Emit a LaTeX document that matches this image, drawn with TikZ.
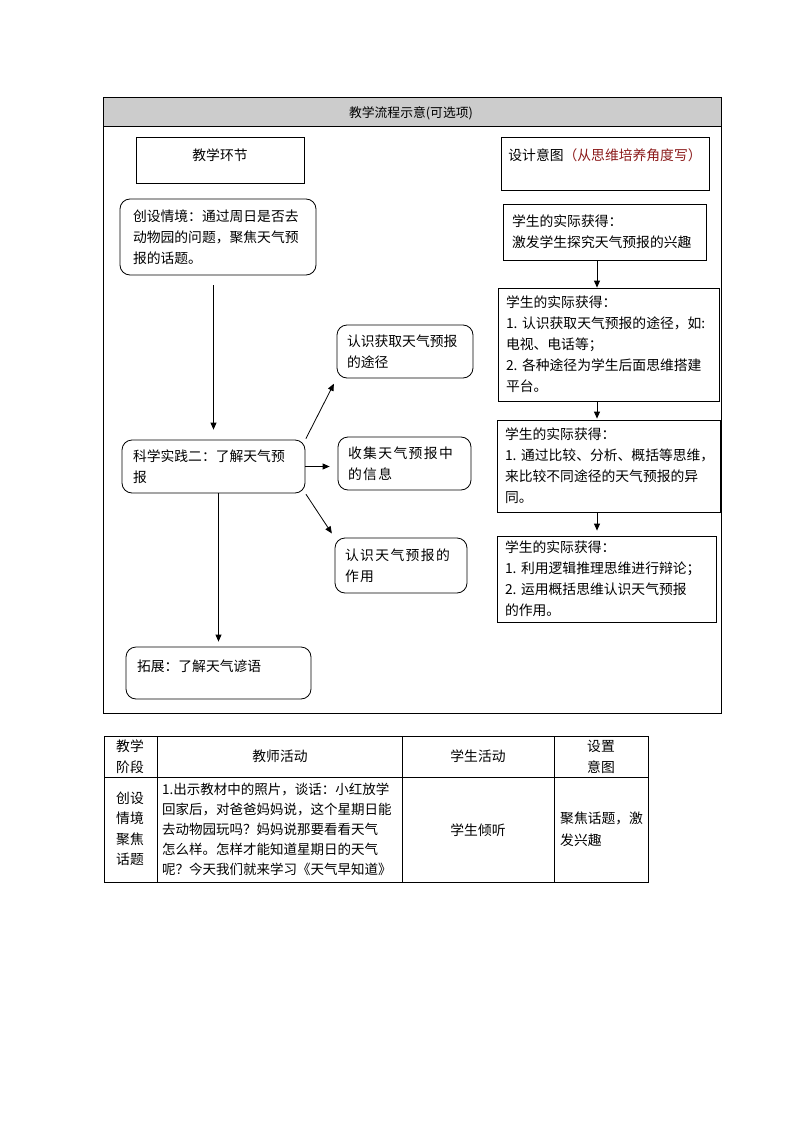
\documentclass[tikz,border=0pt]{standalone}
\usepackage{fontspec}
\setmainfont{Noto Sans CJK SC}
\usetikzlibrary{arrows.meta}
\definecolor{noteRed}{HTML}{8B1A1A}
\definecolor{headGray}{HTML}{CCCCCC}

\begin{document}
\begin{tikzpicture}[x=1pt,y=-1pt,
    txt/.style={font=\fontsize{13.8}{21}\selectfont},
    roundbox/.style={txt,draw,rounded corners=10pt,align=left,line width=0.8pt},
    squarebox/.style={txt,draw,align=left,line width=0.8pt},
    wide/.style={font=\fontsize{13.8}{21}\selectfont\addfontfeature{LetterSpace=10}},
    flow/.style={line width=0.8pt,-{Triangle[length=7pt,width=6pt]}}]
    \useasboundingbox (0,0) rectangle (794,1123);

    % frame of the flow chart
    \fill[headGray] (103,97) rectangle (721,127);
    \draw[line width=0.8pt] (103,97) rectangle (721,713);
    \draw[line width=1pt] (103,127) -- (721,127);
    \node[font=\fontsize{12.8}{15}\selectfont] (title) at (411,113) {教学流程示意(可选项)};

    \node[squarebox,align=center,minimum width=168pt,minimum height=46pt,text depth=11.5pt] (step) at (220,160) {教学环节};
    \node[squarebox,align=center,minimum width=208pt,minimum height=53pt,text depth=18pt] (design) at (605,163.5) {设计意图\textcolor{noteRed}{（从思维培养角度写）}};

    % left column
    \node[roundbox,text width=170pt,inner xsep=13pt,minimum height=76pt] (intro) at (218,237)
        {创设情境：通过周日是否去\\动物园的问题，聚焦天气预\\报的话题。};
    \node[roundbox,text width=161pt,inner xsep=11pt,minimum height=53pt] (practice) at (213.5,466.5)
        {科学实践二：了解天气预\\报};
    \node[roundbox,text width=163pt,inner xsep=11pt,minimum height=52pt,text depth=14pt] (extend) at (218.5,673)
        {拓展：了解天气谚语};

    % middle column
    \node[roundbox,text width=116pt,inner xsep=10pt,minimum height=53pt] (way) at (405,351.5)
        {认识获取天气预报\\的途径};
    \node[roundbox,wide,text width=113pt,inner xsep=10pt,minimum height=53pt] (info) at (404.5,463.5)
        {收集天气预报中\\的信息};
    \node[roundbox,wide,text width=112pt,inner xsep=10pt,minimum height=55pt] (role) at (401,565.5)
        {认识天气预报的\\作用};

    % right column
    \node[squarebox,text width=185pt,inner xsep=9pt,minimum height=56pt] (gainA) at (604.5,232)
        {学生的实际获得：\\激发学生探究天气预报的兴趣};
    \node[squarebox,text width=205pt,inner xsep=8pt,minimum height=113pt] (gainB) at (608.5,344.5)
        {学生的实际获得：\\1.~认识获取天气预报的途径，如:\\电视、电话等；\\2.~各种途径为学生后面思维搭建\\平台。};
    \node[squarebox,text width=207pt,inner xsep=8pt,minimum height=92pt] (gainC) at (608.5,466)
        {学生的实际获得：\\1.~通过比较、分析、概括等思维，\\来比较不同途径的天气预报的异\\同。};
    \node[squarebox,text width=203pt,inner xsep=8pt,minimum height=86pt] (gainD) at (606.5,579)
        {学生的实际获得：\\1.~利用逻辑推理思维进行辩论；\\2.~运用概括思维认识天气预报\\的作用。};

    \draw[flow,shorten <=10pt,shorten >=10pt] (intro.south -| practice.north) -- (practice.north);
    \draw[flow,shorten >=5pt] (practice.south -| extend.north) -- (extend.north);
    \draw[flow,shorten <=1pt,shorten >=6pt] (practice.north east) -- (way.south west);
    \draw[flow,shorten >=8pt] (practice.east) -- (practice.east -| info.west);
    \draw[flow,shorten <=1pt,shorten >=5pt] (practice.south east) -- (role.north west);

    \coordinate (rail) at (597,0);
    \draw[flow] (gainA.south -| rail) -- (gainB.north -| rail);
    \draw[flow,shorten >=1pt] (gainB.south -| rail) -- (gainC.north -| rail);
    \draw[flow,shorten >=5pt] (gainC.south -| rail) -- (gainD.north -| rail);

    % lesson table
    \draw[line width=1pt] (104,736) rectangle (648,882);
    \draw[line width=1pt] (104,777) -- (648,777);
    \foreach \x in {157,402,554}
        \draw[line width=1pt] (\x,736) -- (\x,882);

    \node[txt,align=center] (stageHead) at (130,756.5) {教学\\阶段};
    \node[txt] (teachHead) at (280,756.5) {教师活动};
    \node[txt] (learnHead) at (478,756.5) {学生活动};
    \node[txt,align=center] (aimHead) at (601,756.5) {设置\\意图};

    \node[txt,align=center,font=\fontsize{13.8}{20.5}\selectfont] (stage) at (130,829) {创设\\情境\\聚焦\\话题};
    \node[txt,anchor=west,text width=240pt,inner xsep=2pt,align=left,font=\fontsize{13.5}{20}\selectfont] (teach) at (160,829)
        {1.出示教材中的照片，谈话：小红放学\\回家后，对爸爸妈妈说，这个星期日能\\去动物园玩吗？妈妈说那要看看天气\\怎么样。怎样才能知道星期日的天气\\呢？今天我们就来学习《天气早知道》};
    \node[txt] (learn) at (478,830) {学生倾听};
    \node[txt,anchor=west,inner xsep=3pt,align=left,font=\fontsize{13.8}{22}\selectfont] (aim) at (557,829) {聚焦话题，激\\发兴趣};
\end{tikzpicture}
\end{document}
